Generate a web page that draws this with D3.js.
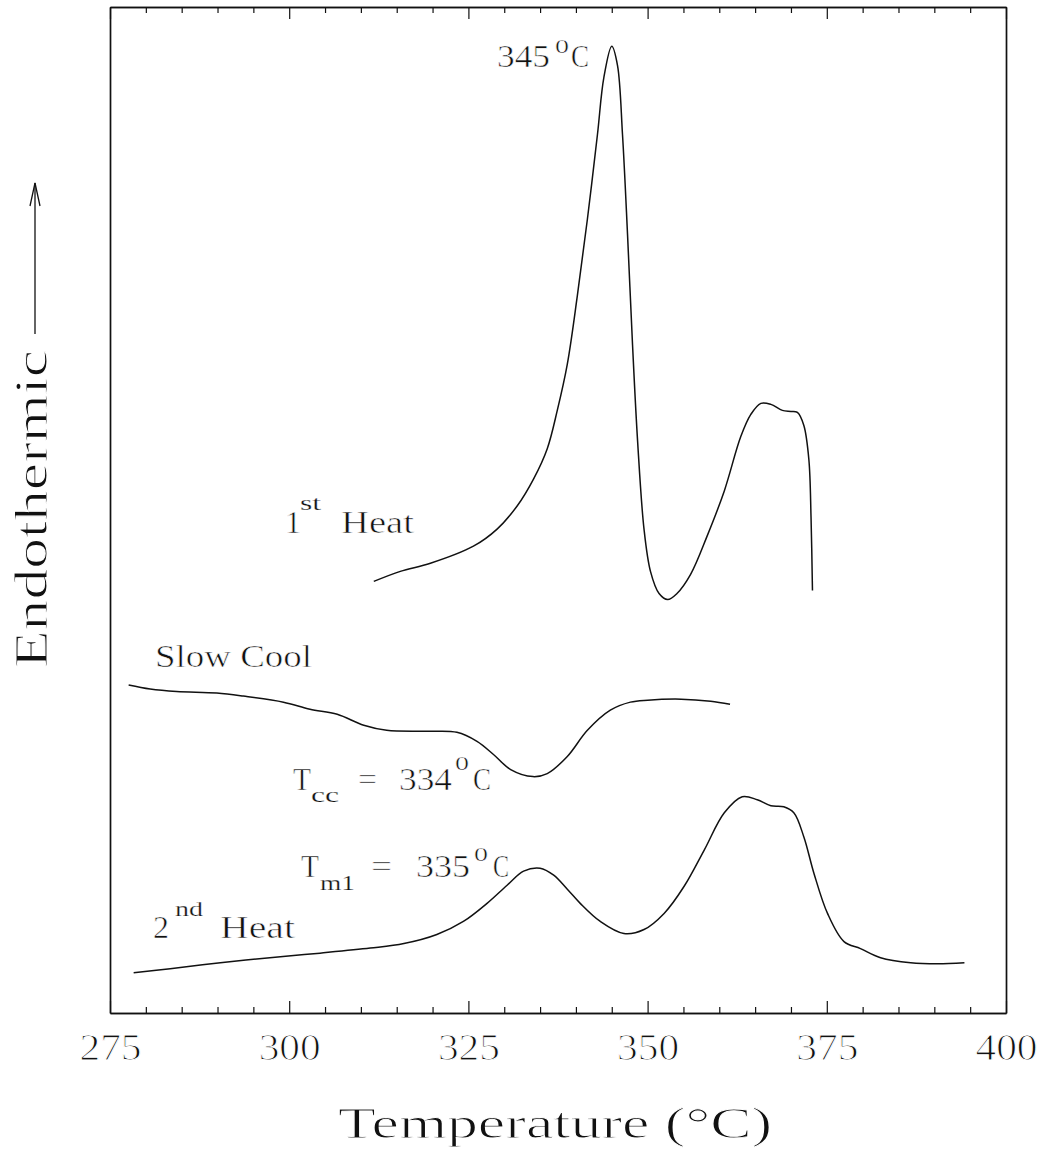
<!DOCTYPE html>
<html>
<head>
<meta charset="utf-8">
<script src="https://cdn.jsdelivr.net/npm/d3@7/dist/d3.min.js"></script>
<style>
  html, body { margin: 0; padding: 0; background: #fff; }
  svg { display: block; }
  text { font-family: "Liberation Serif", "Times New Roman", serif; fill: #111; stroke: #fff; stroke-width: 0.6; }
  text.big { stroke-width: 1.0; }
  text.small { stroke-width: 0.25; }
</style>
</head>
<body>
<svg id="chart" width="1049" height="1151"></svg>
<script>
// DSC traces: temperature (°C) and heat flow (arbitrary units, endothermic up)
const firstHeatT = [311.8, 315.5, 319.7, 325.7, 329.0, 331.8, 334.1, 336.0, 337.4, 338.8, 340.2, 341.6, 343.0, 343.9, 345.0, 345.8, 346.5, 347.2, 347.9, 348.6, 349.5, 350.4, 351.6, 352.8, 354.1, 356.0, 358.3, 360.7, 363.0, 364.4, 365.8, 367.2, 368.8, 370.0, 370.9, 371.8, 372.5, 372.8, 373.0];
const firstHeatFlow = [42.9, 43.9, 44.7, 46.4, 48.1, 50.4, 53.1, 56.1, 59.9, 64.5, 71.3, 78.9, 87.3, 93.0, 96.1, 94.2, 87.3, 77.4, 66.4, 56.9, 48.1, 43.9, 41.7, 41.1, 41.7, 43.6, 47.4, 51.9, 57.3, 59.5, 60.6, 60.5, 59.9, 59.8, 59.7, 58.4, 55.0, 49.3, 42.0];

const slowCoolT = [277.6, 280.6, 284.3, 289.9, 293.6, 299.2, 302.9, 306.7, 310.4, 313.6, 319.2, 323.4, 326.2, 328.5, 330.9, 334.0, 336.0, 338.8, 341.6, 344.8, 347.6, 350.0, 354.7, 358.8, 361.5];
const slowCoolFlow = [32.6, 32.2, 31.95, 31.8, 31.5, 30.9, 30.2, 29.7, 28.6, 28.1, 28.0, 27.9, 27.0, 25.7, 24.2, 23.5, 23.8, 25.5, 28.1, 30.1, 30.9, 31.1, 31.2, 31.0, 30.7];

const secondHeatT = [278.3, 283.4, 290.4, 297.3, 304.3, 311.3, 316.0, 320.6, 324.3, 327.6, 330.4, 332.7, 335.0, 336.9, 338.8, 340.6, 343.4, 346.7, 349.5, 352.3, 355.1, 357.9, 360.7, 363.2, 365.3, 367.2, 369.0, 370.4, 371.8, 373.2, 375.1, 377.4, 379.7, 382.5, 386.7, 390.5, 394.2];
const secondHeatFlow = [4.0, 4.4, 5.0, 5.5, 5.95, 6.45, 6.9, 7.8, 9.1, 10.9, 12.7, 14.1, 14.4, 13.7, 12.3, 10.9, 9.1, 7.9, 8.3, 9.9, 12.6, 16.2, 19.9, 21.5, 21.2, 20.6, 20.5, 19.9, 17.5, 13.9, 9.9, 7.1, 6.4, 5.5, 5.0, 4.9, 5.0];

const majorTicks = [275, 300, 325, 350, 375, 400];
const minorTicks = d3.range(275, 401, 5).filter(t => !majorTicks.includes(t));

const svg = d3.select("#chart");
const x = d3.scaleLinear().domain([275, 400]).range([110, 1006]);
const y = d3.scaleLinear().domain([0, 100]).range([1013, 7]);

// ---- frame and ticks (ticks point inward on top and bottom) ----
function styleAxis(g) {
  g.attr("font-family", null).attr("font-size", null);
  g.select(".domain").attr("stroke", "#111").attr("stroke-width", 1.7);
  g.selectAll(".tick line").attr("stroke", "#111").attr("stroke-width", 1.2);
}

svg.append("g").attr("transform", `translate(0,${y(0)})`)
  .call(d3.axisBottom(x).tickValues(minorTicks).tickSize(-6).tickSizeOuter(0).tickFormat(""))
  .call(styleAxis);
const bottom = svg.append("g").attr("transform", `translate(0,${y(0)})`)
  .call(d3.axisBottom(x).tickValues(majorTicks).tickSize(-12).tickSizeOuter(0).tickFormat(d3.format("d")))
  .call(styleAxis);
bottom.selectAll(".tick text")
  .attr("class", "big")
  .attr("y", 47).attr("dy", null)
  .attr("font-size", 37)
  .attr("fill", "#111")
  .attr("textLength", 62).attr("lengthAdjust", "spacingAndGlyphs");

svg.append("g").attr("transform", `translate(0,${y(100)})`)
  .call(d3.axisTop(x).tickValues(minorTicks).tickSize(-6).tickSizeOuter(0).tickFormat(""))
  .call(styleAxis);
svg.append("g").attr("transform", `translate(0,${y(100)})`)
  .call(d3.axisTop(x).tickValues(majorTicks).tickSize(-12).tickSizeOuter(0).tickFormat(""))
  .call(styleAxis);

svg.append("g").attr("transform", `translate(${x(275)},0)`)
  .call(d3.axisLeft(y).tickValues([]).tickSizeOuter(0))
  .call(styleAxis);
svg.append("g").attr("transform", `translate(${x(400)},0)`)
  .call(d3.axisRight(y).tickValues([]).tickSizeOuter(0))
  .call(styleAxis);

// ---- traces ----
const line = d3.line()
  .x(d => x(d.t))
  .y(d => y(d.v))
  .curve(d3.curveCatmullRom.alpha(0.5));

const traces = [
  { t: firstHeatT, v: firstHeatFlow },
  { t: slowCoolT, v: slowCoolFlow },
  { t: secondHeatT, v: secondHeatFlow }
];
svg.append("g").selectAll("path")
  .data(traces)
  .join("path")
  .attr("d", s => line(s.t.map((t, i) => ({ t, v: s.v[i] }))))
  .attr("fill", "none")
  .attr("stroke", "#111")
  .attr("stroke-width", 1.5)
  .attr("stroke-linejoin", "round");

// ---- annotations ----
function label(px, py, str, size, len) {
  const t = svg.append("text")
    .attr("x", px).attr("y", py)
    .attr("font-size", size)
    .text(str);
  if (size <= 22) t.attr("class", "small");
  if (len) t.attr("textLength", len).attr("lengthAdjust", "spacingAndGlyphs");
  return t;
}

// 345°C at the first-heat melting peak
label(497, 67, "345", 32, 53);
label(555, 53, "o", 28);
label(571, 67, "C", 32, 18);

// 1st Heat
label(285, 533, "1", 32);
label(300, 510, "st", 21, 21);
label(341, 533, "Heat", 32, 73);

// Slow Cool
label(155, 667, "Slow Cool", 31, 157);

// Tcc = 334°C
label(293, 790, "T", 32, 18);
label(311, 802, "cc", 22, 28);
label(358, 790, "=", 32, 19);
label(399, 790, "334", 32, 53);
label(455, 770, "o", 28);
label(473, 790, "C", 32, 18);

// Tm1 = 335°C
label(301, 877, "T", 32, 18);
label(320, 890, "m1", 22, 35);
label(371, 877, "=", 32, 21);
label(416, 877, "335", 32, 54);
label(474, 861, "o", 28);
label(493, 877, "C", 32, 16);

// 2nd Heat
label(153, 938, "2", 32);
label(175, 916, "nd", 21, 28);
label(220, 938, "Heat", 32, 75);

// ---- axis titles ----
label(338, 1138, "Temperature (\u00B0C)", 45, 434).attr("class", "big");

svg.append("text")
  .attr("class", "big")
  .attr("transform", "translate(47,668) rotate(-90)")
  .attr("font-size", 46)
  .attr("textLength", 318).attr("lengthAdjust", "spacingAndGlyphs")
  .text("Endothermic");

// arrow indicating the endothermic direction
svg.append("path")
  .attr("d", d3.line()([[35, 334], [35, 183]]))
  .attr("stroke", "#111").attr("stroke-width", 1.3).attr("fill", "none");
svg.append("path")
  .attr("d", d3.line()([[30, 206], [35, 183], [40, 206]]))
  .attr("stroke", "#111").attr("stroke-width", 1.3).attr("fill", "none");
</script>
</body>
</html>
